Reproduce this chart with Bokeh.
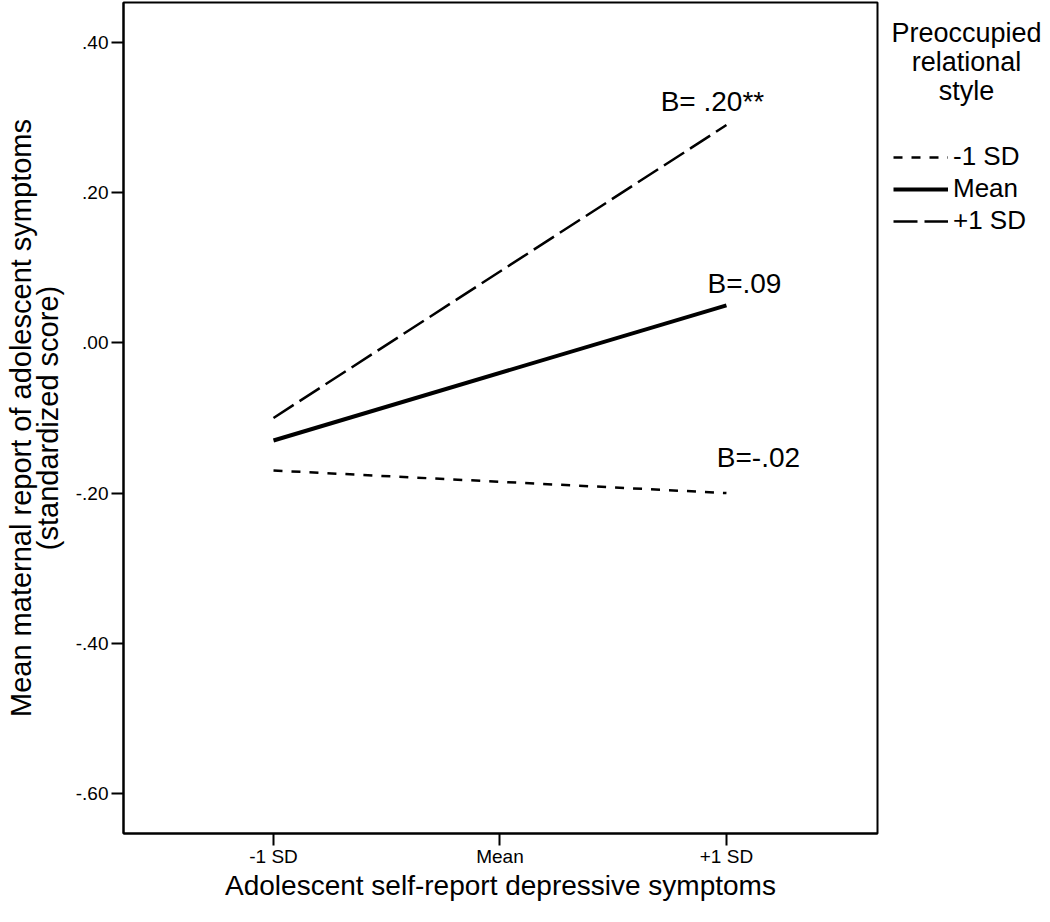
from bokeh.plotting import figure
from bokeh.layouts import row
from bokeh.models import (ColumnDataSource, FixedTicker, Range1d, Legend, LegendItem, Label)
from bokeh.core.properties import value
from bokeh.embed import file_html
from bokeh.resources import INLINE

# ---- data ----
x_levels = ["-1 SD", "Mean", "+1 SD"]
x_pos = [0, 1, 2]
line_x = [0, 2]
low_sd = [-0.17, -0.20]
mean_sd = [-0.13, 0.05]
high_sd = [-0.10, 0.29]
series_names = ["-1 SD", "Mean", "+1 SD"]
b_labels = ["B=-.02", "B=.09", "B= .20**"]
y_ticks = [0.40, 0.20, 0.00, -0.20, -0.40, -0.60]
y_tick_labels = [".40", ".20", ".00", "-.20", "-.40", "-.60"]
legend_title_lines = ["Preoccupied", "relational", "style"]

FONT = "Liberation Sans"
STYLES = [dict(line_width=2.5, line_dash="9 9"),
          dict(line_width=4, line_dash="solid"),
          dict(line_width=2.5, line_dash="24 7")]

# ---- main chart ----
FRAME_W, FRAME_H = 754, 831
PX_Y = 751.0
Y_END = 0.4532
Y_START = Y_END - FRAME_H / PX_Y
X_START, X_END = -0.6623, 2.667
H = FRAME_H + 2 + 85

p = figure(output_backend="svg", toolbar_location=None,
           frame_width=FRAME_W, frame_height=FRAME_H,
           min_border_left=123, min_border_right=4,
           min_border_top=2, min_border_bottom=85,
           x_range=Range1d(X_START, X_END), y_range=Range1d(Y_START, Y_END))
p.background_fill_color = "white"
p.border_fill_color = "white"
p.xgrid.visible = False
p.ygrid.visible = False
p.outline_line_color = "black"
p.outline_line_width = 2

p.xaxis.ticker = FixedTicker(ticks=x_pos)
p.xaxis.major_label_overrides = {x: lab for x, lab in zip(x_pos, x_levels)}
p.yaxis.ticker = FixedTicker(ticks=y_ticks)
p.yaxis.major_label_overrides = {t: lab for t, lab in zip(y_ticks, y_tick_labels)}
for ax in (p.xaxis, p.yaxis):
    ax.axis_line_color = "black"
    ax.axis_line_width = 2
    ax.major_tick_line_color = "black"
    ax.major_tick_line_width = 2
    ax.major_tick_out = 12
    ax.major_tick_in = 0
    ax.minor_tick_line_color = None
    ax.major_label_text_font = FONT
    ax.major_label_text_font_size = "19px"
    ax.major_label_text_color = "black"
    ax.axis_label_text_font = FONT
    ax.axis_label_text_font_style = "normal"
    ax.axis_label_text_color = "black"
p.xaxis.axis_label = "Adolescent self-report depressive symptoms"
p.xaxis.axis_label_text_font_size = "28px"
p.yaxis.axis_label = "Mean maternal report of adolescent symptoms\n(standardized score)"
p.yaxis.axis_label_text_font_size = "29px"
p.yaxis.axis_label_text_line_height = 0.85
p.xaxis.major_label_standoff = 0
p.xaxis.axis_label_standoff = 0
p.yaxis.major_label_standoff = 3
p.yaxis.axis_label_standoff = 9

series = [low_sd, mean_sd, high_sd]
for ys, st in zip(series, STYLES):
    p.line(line_x, ys, line_color="black", **st)

src = ColumnDataSource(dict(
    x=[line_x[-1]] * 3,
    y=[s[-1] for s in series],
    text=b_labels,
    xo=[32, 18, -14],
    yo=[-36, -22, -24],
))
p.text(x="x", y="y", text="text", x_offset="xo", y_offset="yo", source=src,
       text_align="center", text_baseline="alphabetic",
       text_font=value(FONT), text_font_size="28px", text_color="black")

# ---- legend panel ----
W2 = 1046 - (123 + FRAME_W + 4)
q = figure(output_backend="svg", toolbar_location=None,
           frame_width=W2, frame_height=H,
           min_border_left=0, min_border_right=0, min_border_top=0, min_border_bottom=0,
           x_range=Range1d(0, W2), y_range=Range1d(H, 0))
q.axis.visible = False
q.xgrid.visible = False
q.ygrid.visible = False
q.outline_line_color = None
q.background_fill_color = "white"
q.border_fill_color = "white"

# legend key renderers (hidden; only their styles are shown in the key)
rends = [q.line(line_x, ys, line_color="black", visible=False, **st)
         for ys, st in zip(series, STYLES)]
legend = Legend(items=[LegendItem(label=n, renderers=[r]) for n, r in zip(series_names, rends)],
                location=(12, H - 236))
legend.label_text_font = FONT
legend.label_text_font_size = "26px"
legend.label_text_color = "black"
legend.glyph_width = 55
legend.glyph_height = 26
legend.label_height = 26
legend.label_standoff = 5
legend.spacing = 1
legend.padding = 0
legend.margin = 0
legend.border_line_color = None
legend.background_fill_alpha = 0
legend.inactive_fill_alpha = 0
q.add_layout(legend, "center")

title_cx = 966 - (123 + FRAME_W + 4)
for i, line in enumerate(legend_title_lines):
    q.add_layout(Label(x=title_cx, y=30 + 29 * i, text=line,
                       text_align="center", text_baseline="middle",
                       text_font=FONT, text_font_size="27px", text_color="black"))

open("out.html", "w").write(file_html(row(p, q), INLINE))
